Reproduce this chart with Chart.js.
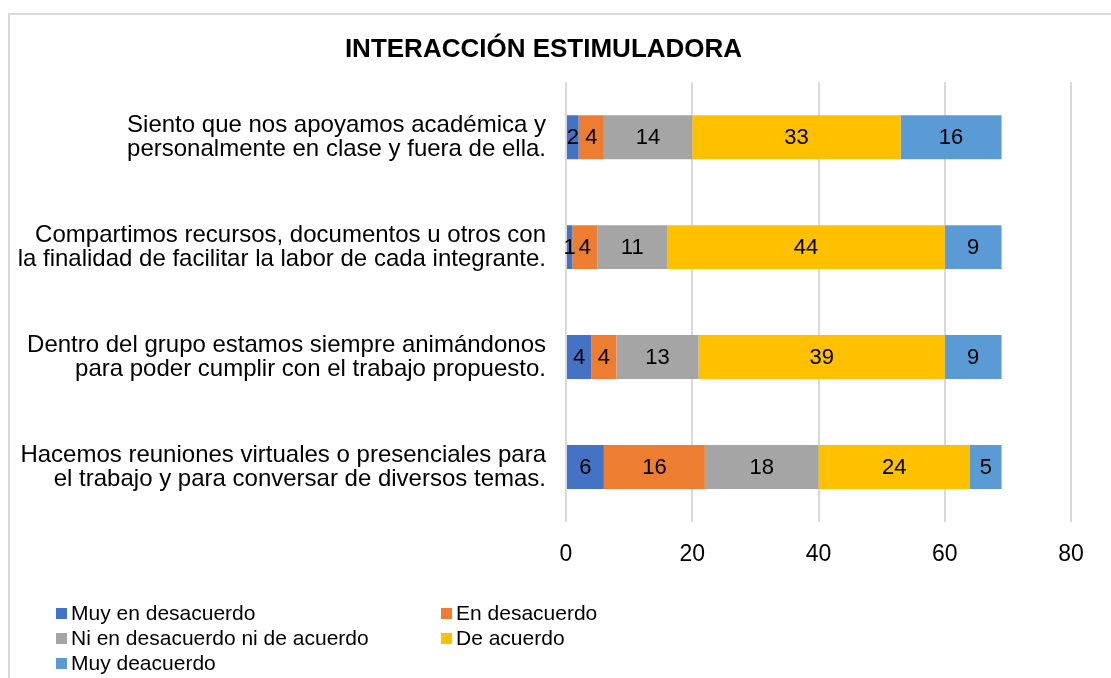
<!DOCTYPE html>
<html lang="es">
<head>
<meta charset="UTF-8">
<title>Interacción estimuladora</title>
<script src="https://cdn.jsdelivr.net/npm/chart.js"></script>
<style>
  body { margin: 0; background: #fff; font-family: 'Liberation Sans', Arial, sans-serif; }
  #wrap { position: relative; width: 1111px; height: 678px; overflow: hidden; }
  #frame { position: absolute; left: 8px; top: 13px; width: 1200px; height: 800px;
           border-left: 2px solid #d9d9d9; border-top: 2px solid #d9d9d9; }
  #chart { position: absolute; left: 0; top: 0; }
  .leg { position: absolute; font-size: 21px; color: #000; line-height: 24px; white-space: nowrap; }
  .leg span { display: inline-block; width: 11px; height: 11px; margin-right: 4px; vertical-align: 1px; }
</style>
</head>
<body>
<div id="wrap">
  <div id="frame"></div>
  <canvas id="chart" width="1111" height="678"></canvas>
  <div id="legend"></div>
</div>
<script>
// categories (top to bottom)
const categories = [
  ['Siento que nos apoyamos académica y', 'personalmente en clase y fuera de ella.'],
  ['Compartimos recursos, documentos u otros con', 'la finalidad de facilitar la labor de cada integrante.'],
  ['Dentro del grupo estamos siempre animándonos', 'para poder cumplir con el trabajo propuesto.'],
  ['Hacemos reuniones virtuales o presenciales para', 'el trabajo y para conversar de diversos temas.']
];
const seriesNames = ['Muy en desacuerdo', 'En desacuerdo', 'Ni en desacuerdo ni de acuerdo', 'De acuerdo', 'Muy deacuerdo'];
const seriesColors = ['#4472C4', '#ED7D31', '#A5A5A5', '#FFC000', '#5B9BD5'];
const muyDesacuerdo = [2, 1, 4, 6];
const enDesacuerdo = [4, 4, 4, 16];
const neutral = [14, 11, 13, 18];
const deAcuerdo = [33, 44, 39, 24];
const muyDeacuerdo = [16, 9, 9, 5];
const seriesValues = [muyDesacuerdo, enDesacuerdo, neutral, deAcuerdo, muyDeacuerdo];
const xTicks = [0, 20, 40, 60, 80];

const FONT = "'Liberation Sans', Arial, sans-serif";

// value labels in the middle of each segment
const valueLabels = {
  id: 'valueLabels',
  afterDatasetsDraw(chart) {
    const ctx = chart.ctx;
    ctx.save();
    ctx.font = '22px ' + FONT;
    ctx.fillStyle = '#000';
    ctx.textAlign = 'center';
    ctx.textBaseline = 'middle';
    chart.data.datasets.forEach((ds, i) => {
      chart.getDatasetMeta(i).data.forEach((bar, j) => {
        const v = ds.data[j];
        if (!v) return;
        ctx.fillText(String(v), (bar.x + bar.base) / 2, bar.y + 1);
      });
    });
    ctx.restore();
  }
};

new Chart(document.getElementById('chart'), {
  type: 'bar',
  data: {
    labels: categories,
    datasets: seriesNames.map((name, i) => ({
      label: name,
      data: seriesValues[i],
      backgroundColor: seriesColors[i],
      categoryPercentage: 1,
      barPercentage: 0.4
    }))
  },
  options: {
    indexAxis: 'y',
    responsive: false,
    animation: false,
    layout: { padding: { left: 16, right: 40, top: 0, bottom: 96 } },
    plugins: {
      legend: { display: false },
      tooltip: { enabled: false },
      title: {
        display: true,
        text: 'INTERACCIÓN ESTIMULADORA',
        color: '#000',
        font: { family: FONT, size: 26, weight: 'bold' },
        padding: { top: 34, bottom: 17 }
      }
    },
    scales: {
      x: {
        stacked: true,
        min: 0,
        max: 80,
        afterBuildTicks: s => { s.ticks = xTicks.map(v => ({ value: v })); },
        afterFit: s => { s.height = 60; },
        grid: { color: '#d9d9d9', lineWidth: 2, drawTicks: false },
        border: { display: false },
        ticks: { color: '#000', font: { family: FONT, size: 23 }, padding: 19 }
      },
      y: {
        stacked: true,
        afterFit: s => { s.width = 550; },
        grid: { display: false, drawTicks: false },
        border: { display: false },
        ticks: { color: '#000', font: { family: FONT, size: 24, lineHeight: '24px' }, padding: 20 }
      }
    }
  },
  plugins: [valueLabels]
});

// legend, two columns
const legend = document.getElementById('legend');
seriesNames.forEach((name, i) => {
  const d = document.createElement('div');
  d.className = 'leg';
  d.style.left = (i % 2 === 0 ? 56 : 441) + 'px';
  d.style.top = (601 + Math.floor(i / 2) * 25) + 'px';
  d.innerHTML = '<span style="background:' + seriesColors[i] + '"></span>' + name;
  legend.appendChild(d);
});
</script>
</body>
</html>
